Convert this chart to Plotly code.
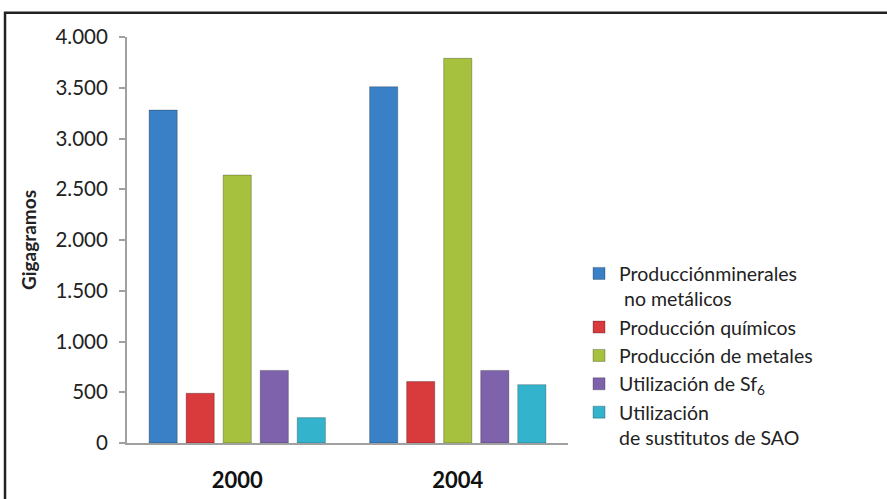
import plotly.graph_objects as go

years = ["2000", "2004"]
series_names = [
    "Producciónminerales<br> no metálicos",
    "Producción químicos",
    "Producción de metales",
    "Utilización de Sf<sub>6</sub>",
    "Utilización<br>de sustitutos de SAO",
]
minerales = [3280, 3510]
quimicos = [490, 605]
metales = [2640, 3790]
sf6 = [715, 715]
sao = [250, 575]
colors = ["#3a80c6", "#d93a3c", "#a5c13d", "#7f62ac", "#33b4cc"]
y_ticks = [0, 500, 1000, 1500, 2000, 2500, 3000, 3500, 4000]

fig = go.Figure()
for name, vals, col in zip(series_names, [minerales, quimicos, metales, sf6, sao], colors):
    fig.add_trace(go.Bar(
        x=years, y=vals, name=name,
        marker=dict(color=col, line=dict(color="rgba(0,0,0,0.25)", width=1)),
    ))

FONT = "Lato"
fig.update_layout(
    width=887, height=499,
    margin=dict(l=127, r=319, t=37, b=56, pad=0),
    paper_bgcolor="white", plot_bgcolor="white",
    separators=",.",
    barmode="group", bargap=0.16, bargroupgap=0.24,
    font=dict(family=FONT, color="#222"),
    showlegend=True,
    legend=dict(
        x=1.025, xanchor="left", y=0.465, yanchor="top",
        font=dict(family=FONT, size=19.5, color="#222"),
        bgcolor="rgba(0,0,0,0)", itemclick=False, valign="top",
    ),
    xaxis=dict(
        type="category", showline=True, linecolor="#a0a0a0", linewidth=2,
        ticks="", tickfont=dict(family=FONT, size=22, color="#111", weight="bold"),
        ticklabelstandoff=17, showgrid=False, automargin=False,
    ),
    yaxis=dict(
        range=[0, 4000], tickvals=y_ticks, tickformat=",d",
        showline=True, linecolor="#a0a0a0", linewidth=2,
        ticks="outside", ticklen=6, tickcolor="#a0a0a0", tickwidth=1.5,
        tickfont=dict(family=FONT, size=20.5, color="#222"),
        ticklabelstandoff=7, automargin=False,
        showgrid=False, zeroline=False,
        title=dict(text="<b>Gigagramos</b>", font=dict(family=FONT, size=19, color="#222"), standoff=14),
    ),
    shapes=[dict(
        type="rect", xref="paper", yref="paper",
        x0=-0.2766, x1=1.9, y0=-0.3, y1=1.06,
        line=dict(color="#222", width=2.5), fillcolor="rgba(0,0,0,0)", layer="above",
    )],
)

fig.write_html("out.html")
